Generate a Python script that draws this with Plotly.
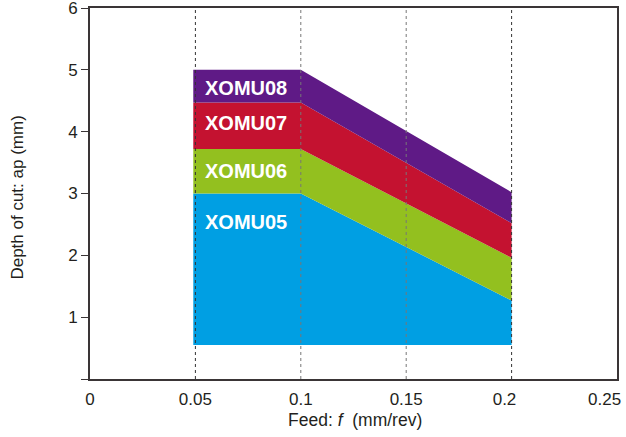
import plotly.graph_objects as go

# Data
feed = [0.049, 0.1, 0.2]
base = [0.55, 0.55, 0.55]
xomu05 = [3.0, 3.0, 1.27]
xomu06 = [3.72, 3.72, 1.96]
xomu07 = [4.47, 4.47, 2.52]
xomu08 = [5.0, 5.0, 3.02]
series_names = ["XOMU05", "XOMU06", "XOMU07", "XOMU08"]
series_colors = ["#009FE3", "#93C01F", "#C41230", "#5F1A86"]
label_y = [2.54, 3.37, 4.14, 4.71]
label_x = 0.0535
x_ticks = [0, 0.05, 0.1, 0.15, 0.2, 0.25]
x_tick_text = ["0", "0.05", "0.1", "0.15", "0.2&nbsp;&nbsp;&nbsp;", ""]
last_x_tick_text = "0.25"
y_ticks = [0, 1, 2, 3, 4, 5, 6]
y_tick_text = ["", "1", "2", "3", "4", "5", "6"]

FONT = "Liberation Sans, Arial, Helvetica"
TXT = "#231F20"

fig = go.Figure()
fig.add_trace(go.Scatter(x=feed, y=base, mode="lines", line=dict(width=0), showlegend=False, hoverinfo="skip"))
for name, vals, col in zip(series_names, [xomu05, xomu06, xomu07, xomu08], series_colors):
    fig.add_trace(go.Scatter(x=feed, y=vals, mode="lines", line=dict(width=0, color=col),
                             fill="tonexty", fillcolor=col, name=name, showlegend=False))

for name, ly in zip(series_names, label_y):
    fig.add_annotation(x=label_x, y=ly, text="<b>" + name + "</b>", showarrow=False, xanchor="left", yanchor="middle",
                       font=dict(family=FONT, size=20, color="white"))

grid_col = ["#333333", "#777777", "#777777", "#333333"]
for xv, gc in zip(x_ticks[1:5], grid_col):
    fig.add_shape(type="line", x0=xv, x1=xv, y0=0, y1=6, xref="x", yref="y",
                  line=dict(color=gc, width=1, dash="dot"), layer="above")

tick_font = dict(family=FONT, size=17, color=TXT)

# last x tick label kept inside the page (right-aligned on its tick)
fig.add_annotation(x=x_ticks[-1], y=0, xref="x", yref="paper", text=last_x_tick_text, showarrow=False,
                   xanchor="right", yanchor="middle", xshift=6, yshift=-20, font=tick_font)

# axis titles
fig.add_annotation(x=0.503, y=-0.1105, xref="paper", yref="paper", showarrow=False,
                   text="Feed: <i>f</i>&nbsp; (mm/rev)", xanchor="center", yanchor="middle",
                   font=dict(family=FONT, size=17.5, color=TXT))
fig.add_annotation(x=-0.1366, y=0.489, xref="paper", yref="paper", showarrow=False, textangle=-90,
                   text="Depth of cut: ap (mm)", xanchor="center", yanchor="middle",
                   font=dict(family=FONT, size=17, color=TXT))

fig.update_layout(
    width=626, height=437,
    margin=dict(l=90, r=9, t=8, b=58),
    paper_bgcolor="white", plot_bgcolor="white",
    xaxis=dict(range=[0, 0.25], tickvals=x_ticks, ticktext=x_tick_text, showgrid=False, zeroline=False,
               showline=True, linecolor="#3a3536", linewidth=1.5, mirror=True, ticks="outside", ticklen=4,
               tickcolor="rgba(0,0,0,0)", tickfont=tick_font, automargin=False, ticklabeloverflow="allow"),
    yaxis=dict(range=[0, 6], tickvals=y_ticks, ticktext=y_tick_text, showgrid=False, zeroline=False,
               showline=True, linecolor="#3a3536", linewidth=2, mirror=True, ticks="outside", ticklen=7,
               tickwidth=1.2, tickcolor="#3a3536", tickfont=tick_font, automargin=False, ticklabeloverflow="allow"),
)
fig.write_html("out.html", post_script="document.body.style.margin='0';", config={"displayModeBar": False})
